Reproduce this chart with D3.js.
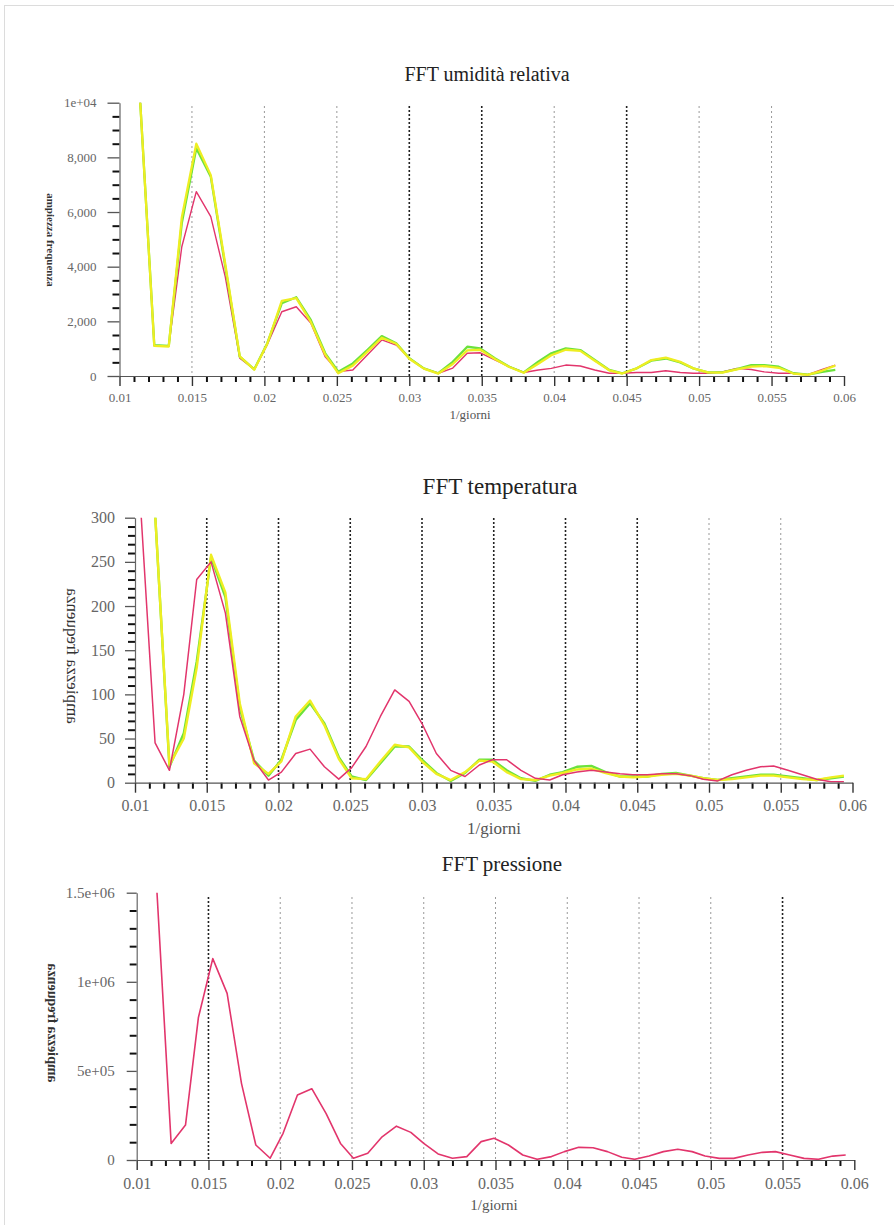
<!DOCTYPE html>
<html>
<head>
<meta charset="utf-8">
<script src="https://cdn.jsdelivr.net/npm/d3@7"></script>
<style>
  body { margin: 0; background: #fff; }
  svg { display: block; }
</style>
</head>
<body>
<div id="chart"></div>
<script>
// ---- Data
const freq = [0.0104, 0.0114, 0.0124, 0.0134, 0.0143, 0.0153, 0.0163, 0.0173, 0.0183, 0.0193,
  0.0202, 0.0212, 0.0222, 0.0232, 0.0242, 0.0251, 0.0261, 0.0271, 0.0281, 0.0291,
  0.0300, 0.0310, 0.0320, 0.0330, 0.0340, 0.0349, 0.0359, 0.0369, 0.0379, 0.0389,
  0.0398, 0.0408, 0.0418, 0.0428, 0.0438, 0.0447, 0.0457, 0.0467, 0.0477, 0.0487,
  0.0496, 0.0506, 0.0516, 0.0526, 0.0536, 0.0545, 0.0555, 0.0565, 0.0575, 0.0585, 0.0594];

const umidRed = [null, 10300, 1100, 1100, 4730, 6745, 5830, 3630, 650, 250,
  1150, 2350, 2535, 1940, 700, 160, 220, 770, 1320, 1130,
  650, 280, 100, 290, 830, 850, 590, 340, 130, 220,
  280, 400, 365, 220, 100, 100, 130, 130, 190, 130,
  100, 100, 150, 280, 240, 150, 100, 100, 50, 240, 400];
const umidGreen = [null, 10300, 1130, 1100, 5600, 8330, 7290, 4000, 706, 245,
  1200, 2660, 2880, 2050, 830, 160, 460, 950, 1460, 1200,
  650, 280, 100, 520, 1070, 1010, 650, 340, 130, 520,
  830, 1010, 950, 585, 220, 100, 280, 560, 640, 500,
  280, 130, 130, 250, 400, 400, 340, 100, 50, 150, 220];
const umidYellow = [null, 10300, 1100, 1080, 5800, 8500, 7350, 4100, 720, 230,
  1180, 2750, 2850, 1980, 780, 100, 380, 880, 1400, 1180,
  630, 270, 90, 440, 940, 960, 620, 330, 120, 450,
  760, 960, 920, 560, 210, 90, 280, 585, 670, 520,
  280, 130, 120, 240, 340, 360, 300, 90, 40, 200, 380];

const tempRed = [310, 45, 14, 100, 230, 250, 192, 75, 25, 3,
  12, 33, 38, 18, 4, 17, 41, 75, 105, 92,
  67, 33, 14, 7, 20, 26, 26, 14, 5, 3,
  9, 12, 14, 12, 10, 9, 9, 10, 10, 8,
  4, 2, 9, 14, 18, 19, 14, 9, 4, 1, 1];
const tempGreen = [null, 305, 18, 56, 137, 255, 210, 85, 25, 8,
  26, 71, 90, 67, 29, 7, 3, 22, 41, 41,
  26, 11, 2, 11, 26, 26, 14, 5, 2, 9,
  12, 18, 19, 12, 7, 7, 7, 10, 11, 8,
  5, 3, 5, 7, 9, 9, 7, 5, 3, 5, 7];
const tempYellow = [null, 305, 20, 50, 130, 258, 215, 90, 22, 10,
  24, 75, 93, 65, 27, 5, 4, 24, 43, 40,
  24, 10, 3, 12, 25, 24, 12, 4, 3, 8,
  11, 15, 16, 11, 7, 6, 7, 9, 10, 8,
  5, 3, 4, 6, 8, 8, 6, 4, 3, 6, 8];

const pressRed = [null, 1520000, 93000, 196000, 800000, 1130000, 935000, 430000, 84000, 10000,
  150000, 365000, 400000, 260000, 93000, 10000, 38000, 130000, 190000, 155000,
  93000, 34000, 10000, 19000, 103000, 122000, 84000, 28000, 4000, 19000,
  47000, 71000, 69000, 47000, 15000, 4000, 22000, 47000, 60000, 47000,
  22000, 9000, 9000, 28000, 43000, 47000, 28000, 9000, 4000, 22000, 28000];

// ---- Tick values and labels
const xTickValues = [0.01, 0.015, 0.02, 0.025, 0.03, 0.035, 0.04, 0.045, 0.05, 0.055, 0.06];
const xTickLabels = ['0.01', '0.015', '0.02', '0.025', '0.03', '0.035', '0.04', '0.045', '0.05', '0.055', '0.06'];
const umidYTicks = [0, 2000, 4000, 6000, 8000, 10000];
const umidYLabels = ['0', '2,000', '4,000', '6,000', '8,000', '1e+04'];
const tempYTicks = [0, 50, 100, 150, 200, 250, 300];
const tempYLabels = ['0', '50', '100', '150', '200', '250', '300'];
const pressYTicks = [0, 500000, 1000000, 1500000];
const pressYLabels = ['0', '5e+05', '1e+06', '1.5e+06'];

const COLORS = { red: '#e2356c', green: '#6be23c', yellow: '#eeee22' };
const FONT = '"Liberation Serif", "DejaVu Serif", serif';

const panels = [
  {
    title: 'FFT umidità relativa', titleX: 487, titleY: 81, titleSize: 20,
    left: 119.5, right: 844, top: 102.7, bottom: 376, guideTop: 106,
    yMax: 10000, yMinorStep: 500, yTicks: umidYTicks, yLabels: umidYLabels,
    tickSize: 10, xPad: 7, xFont: 13, yTickLen: 12, yPad: 11, yFont: 13,
    xLabX: 470, xLabY: 419, xLabSize: 13,
    yLabX: 50, yLabY: 240, yLabSize: 11, yLabWeight: 700,
    yLabTransform: 'rotate(90)',
    darkGuides: [0.03, 0.035, 0.045],
    series: [
      { values: umidRed, color: COLORS.red, width: 1.4 },
      { values: umidGreen, color: COLORS.green, width: 2.3 },
      { values: umidYellow, color: COLORS.yellow, width: 2.3 }
    ]
  },
  {
    title: 'FFT temperatura', titleX: 500, titleY: 494, titleSize: 23,
    left: 135, right: 852.5, top: 517.7, bottom: 782.7, guideTop: 518,
    yMax: 300, yMinorStep: 10, yTicks: tempYTicks, yLabels: tempYLabels,
    tickSize: 10, xPad: 7, xFont: 16, yTickLen: 10, yPad: 10, yFont: 16,
    xLabX: 494, xLabY: 834, xLabSize: 17,
    yLabX: 71, yLabY: 656, yLabSize: 17, yLabWeight: 400,
    yLabTransform: 'rotate(-90) scale(1,-1)',
    darkGuides: [0.015, 0.02, 0.025, 0.03, 0.035, 0.04, 0.045],
    series: [
      { values: tempGreen, color: COLORS.green, width: 2.4 },
      { values: tempYellow, color: COLORS.yellow, width: 2.4 },
      { values: tempRed, color: COLORS.red, width: 1.5 }
    ]
  },
  {
    title: 'FFT pressione', titleX: 502, titleY: 871, titleSize: 21,
    left: 136.7, right: 854.3, top: 892.7, bottom: 1160, guideTop: 897,
    yMax: 1500000, yMinorStep: 100000, yTicks: pressYTicks, yLabels: pressYLabels,
    tickSize: 10, xPad: 8, xFont: 16, yTickLen: 10, yPad: 12, yFont: 15,
    xLabX: 494, xLabY: 1210, xLabSize: 15,
    yLabX: 51, yLabY: 1023, yLabSize: 14, yLabWeight: 700,
    yLabTransform: 'rotate(-90) scale(1,-1)',
    darkGuides: [0.015, 0.055],
    series: [
      { values: pressRed, color: COLORS.red, width: 1.6 }
    ]
  }
];

const svg = d3.select('#chart').append('svg')
  .attr('width', 894).attr('height', 1225)
  .style('font-family', FONT);

// ---- Faint page frame (top and left edges)
svg.append('line').attr('x1', 4).attr('x2', 894).attr('y1', 5.5).attr('y2', 5.5)
  .attr('stroke', '#dcdcdc');
svg.append('line').attr('x1', 4.5).attr('x2', 4.5).attr('y1', 5).attr('y2', 1225)
  .attr('stroke', '#dcdcdc');

panels.forEach((p, pi) => {
  const x = d3.scaleLinear().domain([0.01, 0.06]).range([p.left, p.right]);
  const y = d3.scaleLinear().domain([0, p.yMax]).range([p.bottom, p.top]);
  const g = svg.append('g');

  // ---- Clip for series
  const clipId = `clip${pi}`;
  svg.append('clipPath').attr('id', clipId).append('rect')
    .attr('x', p.left).attr('y', p.top)
    .attr('width', p.right - p.left).attr('height', p.bottom - p.top);

  // ---- Title
  g.append('text')
    .attr('x', p.titleX).attr('y', p.titleY)
    .attr('text-anchor', 'middle')
    .style('font-size', `${p.titleSize}px`)
    .style('fill', '#222')
    .text(p.title);

  // ---- Dashed vertical guides
  g.selectAll('.guide')
    .data(xTickValues.slice(1, -1))
    .join('line')
    .attr('class', 'guide')
    .attr('x1', d => x(d)).attr('x2', d => x(d))
    .attr('y1', p.guideTop).attr('y2', p.bottom)
    .attr('stroke', d => p.darkGuides.includes(d) ? '#222' : '#999')
    .attr('stroke-width', d => p.darkGuides.includes(d) ? 1.6 : 1)
    .attr('stroke-dasharray', d => p.darkGuides.includes(d) ? '2,2' : '2,3');

  // ---- Series
  const line = d3.line()
    .defined(d => d[1] !== null)
    .x(d => x(d[0]))
    .y(d => y(d[1]));

  g.append('g').attr('clip-path', `url(#${clipId})`)
    .selectAll('path')
    .data(p.series)
    .join('path')
    .attr('d', s => line(freq.map((f, i) => [f, s.values[i]])))
    .attr('fill', 'none')
    .attr('stroke', s => s.color)
    .attr('stroke-width', s => s.width)
    .attr('stroke-linejoin', 'round');

  // ---- X axis: minor ticks then labelled major ticks
  const xMinor = d3.range(11, 60).map(k => k / 1000).filter(v => Math.round(v * 1000) % 5 !== 0);
  g.append('g')
    .attr('transform', `translate(0,${p.bottom})`)
    .call(d3.axisBottom(x).tickValues(xMinor).tickSize(6).tickFormat(''))
    .call(s => s.select('.domain').remove())
    .call(s => s.selectAll('line').attr('stroke', '#111').attr('stroke-width', 2));

  g.append('g')
    .attr('transform', `translate(0,${p.bottom})`)
    .call(d3.axisBottom(x).tickValues(xTickValues).tickSize(p.tickSize).tickSizeOuter(0)
      .tickPadding(p.xPad).tickFormat((d, i) => xTickLabels[i]))
    .call(s => s.select('.domain').attr('stroke', '#555').attr('stroke-width', 1.2))
    .call(s => s.selectAll('line').attr('stroke', '#333').attr('stroke-width', 1.4))
    .call(s => s.selectAll('text')
      .style('font-family', FONT)
      .style('font-size', `${p.xFont}px`)
      .style('fill', '#666'));

  // ---- Y axis: minor ticks then labelled major ticks
  const yMinor = d3.range(p.yMinorStep, p.yMax, p.yMinorStep)
    .filter(v => !p.yTicks.includes(v));
  g.append('g')
    .attr('transform', `translate(${p.left},0)`)
    .call(d3.axisLeft(y).tickValues(yMinor).tickSize(7).tickFormat(''))
    .call(s => s.select('.domain').remove())
    .call(s => s.selectAll('line').attr('stroke', '#111').attr('stroke-width', 2));

  g.append('g')
    .attr('transform', `translate(${p.left},0)`)
    .call(d3.axisLeft(y).tickValues(p.yTicks).tickSize(p.yTickLen).tickSizeOuter(0)
      .tickPadding(p.yPad).tickFormat((d, i) => p.yLabels[i]))
    .call(s => s.select('.domain').attr('stroke', '#666').attr('stroke-width', 1.2))
    .call(s => s.selectAll('line').attr('stroke', '#555').attr('stroke-width', 1.3))
    .call(s => s.selectAll('text')
      .style('font-family', FONT)
      .style('font-size', `${p.yFont}px`)
      .style('fill', '#666'));

  // ---- Axis titles
  g.append('text')
    .attr('x', p.xLabX).attr('y', p.xLabY)
    .attr('text-anchor', 'middle')
    .style('font-size', `${p.xLabSize}px`)
    .style('fill', '#555')
    .text('1/giorni');

  g.append('text')
    .attr('transform', `translate(${p.yLabX},${p.yLabY}) ${p.yLabTransform}`)
    .attr('text-anchor', 'middle')
    .attr('dominant-baseline', 'middle')
    .style('font-size', `${p.yLabSize}px`)
    .style('font-weight', p.yLabWeight)
    .style('fill', '#333')
    .text('ampiezza frequenza');
});
</script>
</body>
</html>
